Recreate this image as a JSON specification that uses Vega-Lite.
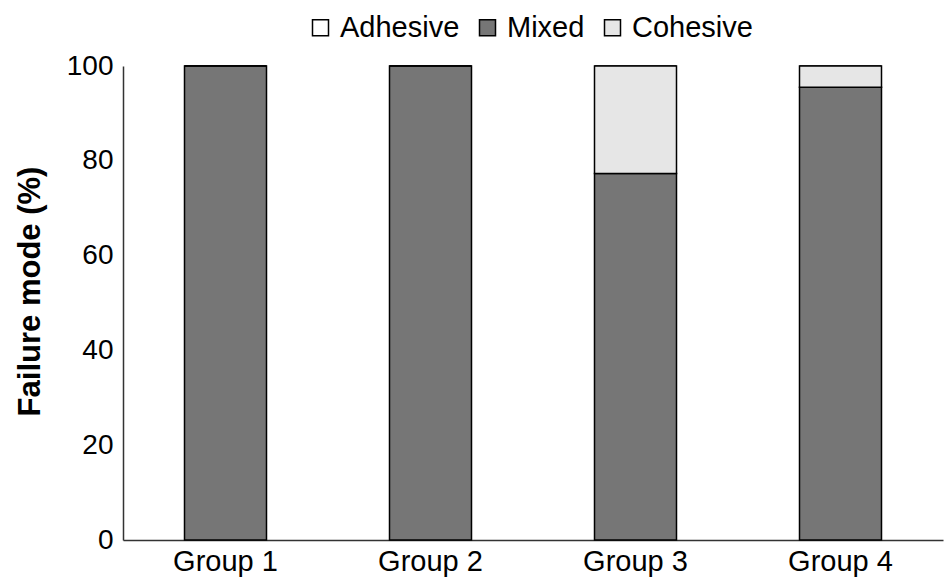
{
  "$schema": "https://vega.github.io/schema/vega-lite/v6.json",
  "autosize": "none",
  "width": 820,
  "height": 474,
  "padding": {"left": 123, "top": 66, "right": 1, "bottom": 43},
  "background": "white",
  "config": {
    "view": {"stroke": null},
    "font": "Liberation Sans"
  },
  "data": {
    "values": [
      {"group": "Group 1", "mode": "Adhesive", "percent": 0},
      {"group": "Group 1", "mode": "Mixed", "percent": 100},
      {"group": "Group 1", "mode": "Cohesive", "percent": 0},
      {"group": "Group 2", "mode": "Adhesive", "percent": 0},
      {"group": "Group 2", "mode": "Mixed", "percent": 100},
      {"group": "Group 2", "mode": "Cohesive", "percent": 0},
      {"group": "Group 3", "mode": "Adhesive", "percent": 0},
      {"group": "Group 3", "mode": "Mixed", "percent": 77.3},
      {"group": "Group 3", "mode": "Cohesive", "percent": 22.7},
      {"group": "Group 4", "mode": "Adhesive", "percent": 0},
      {"group": "Group 4", "mode": "Mixed", "percent": 95.5},
      {"group": "Group 4", "mode": "Cohesive", "percent": 4.5}
    ]
  },
  "mark": {"type": "bar", "stroke": "black", "strokeWidth": 1.5},
  "encoding": {
    "x": {
      "field": "group",
      "type": "nominal",
      "scale": {"paddingInner": 0.6, "paddingOuter": 0.3},
      "axis": {
        "title": null,
        "labelAngle": 0,
        "labelFontSize": 29,
        "labelColor": "black",
        "labelPadding": 7,
        "ticks": false,
        "domainColor": "#333",
        "domainWidth": 1.5
      }
    },
    "y": {
      "field": "percent",
      "type": "quantitative",
      "stack": "zero",
      "scale": {"domain": [0, 100], "nice": false},
      "axis": {
        "title": "Failure mode (%)",
        "titleFontSize": 31,
        "titleFontWeight": "bold",
        "titleColor": "black",
        "titlePadding": 20,
        "titleY": 225,
        "values": [0, 20, 40, 60, 80, 100],
        "labelFontSize": 28,
        "labelColor": "black",
        "labelPadding": 10,
        "ticks": false,
        "grid": false,
        "domainColor": "#333",
        "domainWidth": 1.5
      }
    },
    "color": {
      "field": "mode",
      "type": "nominal",
      "sort": ["Adhesive", "Mixed", "Cohesive"],
      "scale": {
        "domain": ["Adhesive", "Mixed", "Cohesive"],
        "range": ["#ffffff", "#767676", "#e6e6e6"]
      },
      "legend": {
        "title": null,
        "orient": "none",
        "direction": "horizontal",
        "legendX": 183,
        "legendY": -53,
        "symbolType": "square",
        "symbolSize": 256,
        "symbolStrokeColor": "black",
        "symbolStrokeWidth": 1.5,
        "labelFontSize": 29,
        "labelColor": "black",
        "labelOffset": 5,
        "columnPadding": 13
      }
    }
  }
}
